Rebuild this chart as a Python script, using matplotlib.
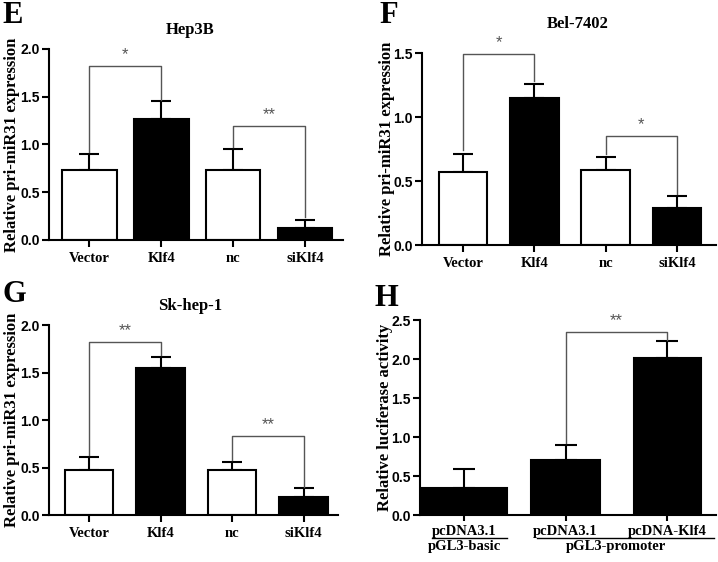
import matplotlib
matplotlib.use("Agg")
import matplotlib.pyplot as plt
import matplotlib.transforms as mtransforms

# ---- data ----
groups = ["Vector", "Klf4", "nc", "siKlf4"]
bar_fill = ["white", "black", "white", "black"]

hep3b_mean = [0.73, 1.27, 0.73, 0.13]
hep3b_err = [0.17, 0.18, 0.22, 0.08]

bel_mean = [0.57, 1.15, 0.59, 0.29]
bel_err = [0.14, 0.11, 0.10, 0.09]

sk_mean = [0.47, 1.55, 0.47, 0.19]
sk_err = [0.14, 0.11, 0.09, 0.09]

luc_labels_top = ["pcDNA3.1", "pcDNA3.1", "pcDNA-Klf4"]
luc_labels_bottom = ["pGL3-basic", "pGL3-promoter"]
luc_mean = [0.35, 0.70, 2.01]
luc_err = [0.24, 0.20, 0.22]

# brackets: (left idx, right idx, top, left leg end, right leg end, star)
hep3b_sig = [(0, 1, 1.82, 0.92, 1.46, "*"), (2, 3, 1.19, 0.97, 0.24, "**")]
bel_sig = [(0, 1, 1.49, 0.74, 1.28, "*"), (2, 3, 0.85, 0.71, 0.40, "*")]
sk_sig = [(0, 1, 1.82, 0.63, 1.68, "**"), (2, 3, 0.83, 0.58, 0.30, "**")]
luc_sig = [(1, 2, 2.35, 0.92, 2.25, "**")]

SERIF = "Liberation Serif"
SANS = "Liberation Sans"
GRAY = "#555555"

fig = plt.figure(figsize=(7.18, 5.62), dpi=100)


def style_axes(ax, ymax, ystep, ylabel):
    for s in ["top", "right"]:
        ax.spines[s].set_visible(False)
    for s in ["left", "bottom"]:
        ax.spines[s].set_linewidth(1.5)
    ax.set_ylim(0, ymax)
    n = int(round(ymax / ystep))
    ax.set_yticks([i * ystep for i in range(n + 1)])
    ax.tick_params(axis="both", direction="out", length=5, width=1.5)
    ax.tick_params(axis="y", pad=1.5)
    for t in ax.get_yticklabels():
        t.set_fontfamily(SANS)
        t.set_fontweight("bold")
        t.set_fontsize(10)
    ax.set_ylabel(ylabel, fontfamily=SERIF, fontweight="bold", fontsize=12)


def draw_sig(ax, pos, sig):
    for li, ri, top, lb, rb, star in sig:
        xl, xr = pos[li], pos[ri]
        ax.plot([xl, xl, xr, xr], [lb, top, top, rb], color=GRAY, lw=1.0,
                clip_on=False)
        ax.text((xl + xr) / 2, top + 0.02 * ax.get_ylim()[1], star,
                ha="center", va="bottom", color=GRAY, fontsize=12,
                fontfamily=SANS)


def expression_panel(rect, mean, err, sig, ymax, width, title, letter,
                     letter_xy, title_xy, xlim, ylabel_x):
    ax = fig.add_axes(rect)
    pos = list(range(len(groups)))
    ax.bar(pos, mean, width=width, color=bar_fill, edgecolor="black",
           linewidth=1.5, zorder=2)
    ax.errorbar(pos, mean, yerr=[[0] * len(mean), err], fmt="none",
                ecolor="black", elinewidth=1.5, capsize=7, capthick=1.5,
                zorder=1)
    style_axes(ax, ymax, 0.5, "Relative pri-miR31 expression")
    ax.set_xlim(*xlim)
    ax.set_xticks(pos)
    ax.set_xticklabels(groups, fontfamily=SERIF, fontweight="bold",
                       fontsize=10.5)
    ax.yaxis.set_label_coords(ylabel_x, 0.5)
    draw_sig(ax, pos, sig)
    ax.text(title_xy[0], title_xy[1], title, transform=ax.transAxes,
            ha="center", va="center", fontfamily=SERIF, fontweight="bold",
            fontsize=12)
    fig.text(letter_xy[0], letter_xy[1], letter, ha="left", va="top",
             fontfamily=SERIF, fontweight="bold", fontsize=22)
    return ax


expression_panel([0.0682, 0.573, 0.4095, 0.340], hep3b_mean, hep3b_err,
                 hep3b_sig, 2.0, 0.76, "Hep3B", "E", (0.003, 0.998),
                 (0.48, 1.10), (-0.5625, 3.53), -0.099)
expression_panel([0.5877, 0.564, 0.409, 0.3416], bel_mean, bel_err,
                 bel_sig, 1.5, 0.68, "Bel-7402", "F", (0.528, 0.998),
                 (0.53, 1.15), (-0.576, 3.54), -0.092)
expression_panel([0.0682, 0.0836, 0.4025, 0.338], sk_mean, sk_err,
                 sk_sig, 2.0, 0.68, "Sk-hep-1", "G", (0.003, 0.502),
                 (0.49, 1.10), (-0.56, 3.48), -0.10)

# ---- panel H ----
ax = fig.add_axes([0.585, 0.0836, 0.412, 0.347])
lpos = [0, 1, 2]
ax.bar(lpos, luc_mean, width=[0.85, 0.68, 0.66], color="black",
       edgecolor="black", linewidth=1.5, zorder=2)
ax.errorbar(lpos, luc_mean, yerr=[[0] * 3, luc_err], fmt="none",
            ecolor="black", elinewidth=1.5, capsize=8, capthick=1.5, zorder=1)
style_axes(ax, 2.5, 0.5, "Relative luciferase activity")
ax.set_xlim(-0.433, 2.48)
ax.set_xticks(lpos)
ax.set_xticklabels([])
ax.tick_params(axis="x", length=4)
ax.yaxis.set_label_coords(-0.091, 0.5)
draw_sig(ax, lpos, luc_sig)

blend = mtransforms.blended_transform_factory(ax.transData, ax.transAxes)
lab_kw = dict(ha="center", va="center", fontfamily=SERIF, fontweight="bold",
              fontsize=10.5, transform=blend)
for p, lab in zip(lpos, luc_labels_top):
    ax.text(p, -0.082, lab, **lab_kw)
ax.plot([-0.32, 0.42], [-0.118, -0.118], color="black", lw=1.0,
        transform=blend, clip_on=False)
ax.plot([0.72, 2.46], [-0.118, -0.118], color="black", lw=1.0,
        transform=blend, clip_on=False)
ax.text(0, -0.160, luc_labels_bottom[0], **lab_kw)
ax.text(1.5, -0.160, luc_labels_bottom[1], **lab_kw)
fig.text(0.522, 0.495, "H", ha="left", va="top", fontfamily=SERIF,
         fontweight="bold", fontsize=22)

fig.savefig("out.png", dpi=100)
